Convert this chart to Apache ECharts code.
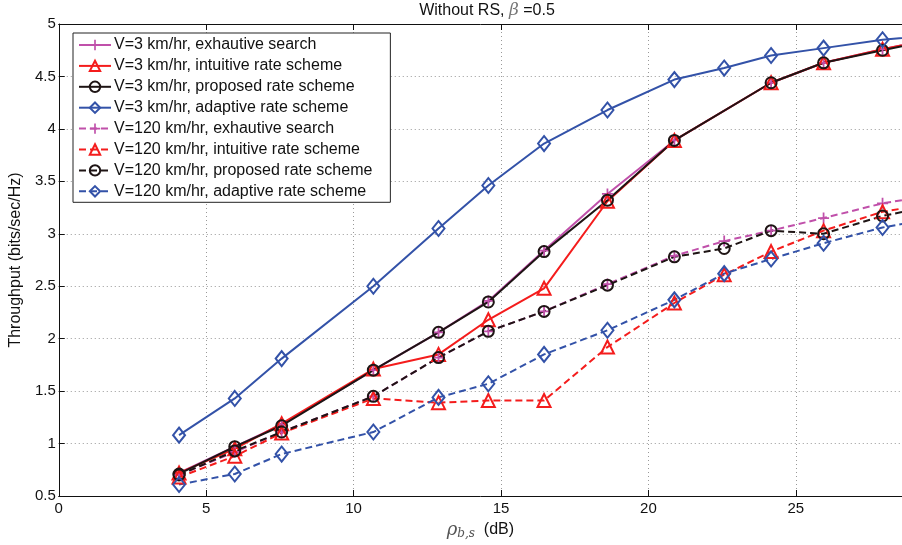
<!DOCTYPE html>
<html>
<head>
<meta charset="utf-8">
<script src="https://cdn.jsdelivr.net/npm/echarts@6/dist/echarts.min.js"></script>
<style>html,body{margin:0;padding:0;background:#fff}#c{width:902px;height:545px}</style>
</head>
<body>
<div id="c"></div>
<script>
// SNR values (dB); the last point lies just beyond the visible axis range
var snr = [4.08, 5.97, 7.56, 10.67, 12.88, 14.57, 16.46, 18.61, 20.88, 22.57, 24.16, 25.94, 27.94, 29.9];

var v3Exhaustive  = [0.72, 0.97, 1.18, 1.70, 2.06, 2.36, 2.84, 3.38, 3.89, null, 4.44, 4.63, 4.76, 4.87];
var v3Intuitive   = [0.72, 0.95, 1.19, 1.71, 1.85, 2.18, 2.48, 3.31, 3.89, null, 4.44, 4.63, 4.76, 4.87];
var v3Proposed    = [0.71, 0.97, 1.17, 1.70, 2.06, 2.35, 2.83, 3.32, 3.89, null, 4.44, 4.63, 4.75, 4.86];
var v3Adaptive    = [1.08, 1.43, 1.81, 2.50, 3.05, 3.46, 3.86, 4.18, 4.47, 4.58, 4.70, 4.77, 4.85, 4.90];

var v120Exhaustive = [0.70, 0.92, 1.11, 1.45, 1.82, 2.07, 2.26, 2.52, 2.79, 2.93, 3.03, 3.15, 3.29, 3.38];
var v120Intuitive  = [0.68, 0.88, 1.10, 1.43, 1.39, 1.41, 1.41, 1.92, 2.34, 2.61, 2.83, 3.03, 3.21, 3.30];
var v120Proposed   = [0.70, 0.93, 1.11, 1.45, 1.82, 2.07, 2.26, 2.51, 2.78, 2.86, 3.03, 3.00, 3.17, 3.28];
var v120Adaptive   = [0.61, 0.71, 0.90, 1.11, 1.44, 1.57, 1.85, 2.08, 2.37, 2.62, 2.76, 2.91, 3.06, 3.16];

var names = [
  'V=3 km/hr, exhautive search',
  'V=3 km/hr, intuitive rate scheme',
  'V=3 km/hr, proposed rate scheme',
  'V=3 km/hr, adaptive rate scheme',
  'V=120 km/hr, exhautive search',
  'V=120 km/hr, intuitive rate scheme',
  'V=120 km/hr, proposed rate scheme',
  'V=120 km/hr, adaptive rate scheme'
];
var yTicks = [0.5, 1, 1.5, 2, 2.5, 3, 3.5, 4, 4.5, 5];
var xTicks = [0, 5, 10, 15, 20, 25];

var MAG = '#c050aa', RED = '#f41c1c', BLK = '#1e1414', BLU = '#3352a8';
var PLUS = 'path://M4.2,0H5.8V4.2H10V5.8H5.8V10H4.2V5.8H0V4.2H4.2Z';

function pairs(arr) { return snr.map(function (x, i) { return [x, arr[i]]; }); }

function mk(name, data, color, symbol, size, dashed) {
  var isPlus = symbol === PLUS;
  return {
    name: name, type: 'line', data: pairs(data), connectNulls: true,
    symbol: symbol, symbolSize: size, showAllSymbol: true,
    clip: true, animation: false,
    lineStyle: { color: color, width: 2, type: dashed ? [7, 4] : 'solid' },
    itemStyle: isPlus ? { color: color, borderWidth: 0 }
                      : { color: 'none', borderColor: color, borderWidth: 2 }
  };
}

var chart = echarts.init(document.getElementById('c'), null, { renderer: 'canvas' });
var FONT = 'Liberation Sans, Arial, sans-serif';
chart.setOption({
  backgroundColor: '#fff',
  animation: false,
  title: {
    text: 'Without RS, {b|β} =0.5',
    left: 482, top: -3, textAlign: 'center',
    textStyle: { fontFamily: 'Liberation Sans Narrow, ' + FONT, fontSize: 16, fontWeight: 'normal', color: '#111',
      rich: { b: { fontFamily: 'DejaVu Serif, serif', fontStyle: 'italic', fontSize: 17, color: '#777' } } }
  },
  grid: { left: 54, top: 24, right: 0, bottom: 46, containLabel: false },
  legend: {
    orient: 'vertical', left: 73, top: 33,
    itemWidth: 32, itemHeight: 13, itemGap: 4.9,
    padding: [4, 18, 3, 5],
    backgroundColor: '#fff', borderColor: '#222', borderWidth: 1,
    textStyle: { fontFamily: FONT, fontSize: 16, lineHeight: 16, color: '#111', padding: [0, 0, 0, -2] },
    data: names
  },
  xAxis: [{
    type: 'value', min: 0, max: 28.6, interval: 5,
    name: '{r|ρ}{s|b,s}  (dB)', nameLocation: 'middle', nameGap: 24,
    nameTextStyle: { fontFamily: FONT, fontSize: 16, color: '#111',
      rich: { r: { fontFamily: 'DejaVu Serif, serif', fontStyle: 'italic', fontSize: 18, color: '#555' },
              s: { fontFamily: 'DejaVu Serif, serif', fontStyle: 'italic', fontSize: 12, color: '#555', verticalAlign: 'bottom', padding: [8, 0, 0, 0] } } },
    axisLine: { lineStyle: { color: '#111', width: 1 } },
    axisTick: { inside: true, length: 6, lineStyle: { color: '#111' } },
    axisLabel: { fontFamily: FONT, fontSize: 15, color: '#111', margin: 5, showMaxLabel: false,
      formatter: function (v) { return xTicks.indexOf(v) >= 0 ? String(v) : ''; } },
    splitLine: { show: true, lineStyle: { color: '#999', type: [1, 3], width: 1 } }
  }, {
    type: 'value', position: 'top', min: 0, max: 28.6, interval: 5,
    axisLine: { lineStyle: { color: '#111', width: 1 } },
    axisTick: { inside: true, length: 6, lineStyle: { color: '#111' } },
    axisLabel: { show: false }, splitLine: { show: false }
  }],
  yAxis: [{
    type: 'value', min: 0.5, max: 5, interval: 0.5,
    name: 'Throughput (bits/sec/Hz)', nameLocation: 'middle', nameGap: 27,
    nameTextStyle: { fontFamily: FONT, fontSize: 16, color: '#111' },
    axisLine: { show: true, lineStyle: { color: '#111', width: 1 } },
    axisTick: { show: true, inside: true, length: 6, lineStyle: { color: '#111' } },
    axisLabel: { fontFamily: FONT, fontSize: 15, color: '#111', margin: 3,
      formatter: function (v) { return yTicks.indexOf(v) >= 0 ? String(v) : ''; } },
    splitLine: { show: true, lineStyle: { color: '#999', type: [1, 3], width: 1 } }
  }],
  series: [
    mk(names[0], v3Exhaustive, MAG, PLUS, 11, false),
    mk(names[1], v3Intuitive, RED, 'triangle', 13, false),
    mk(names[2], v3Proposed, BLK, 'circle', 11, false),
    mk(names[3], v3Adaptive, BLU, 'diamond', [12, 15], false),
    mk(names[4], v120Exhaustive, MAG, PLUS, 11, true),
    mk(names[5], v120Intuitive, RED, 'triangle', 13, true),
    mk(names[6], v120Proposed, BLK, 'circle', 11, true),
    mk(names[7], v120Adaptive, BLU, 'diamond', [12, 15], true)
  ]
});
</script>
</body>
</html>
